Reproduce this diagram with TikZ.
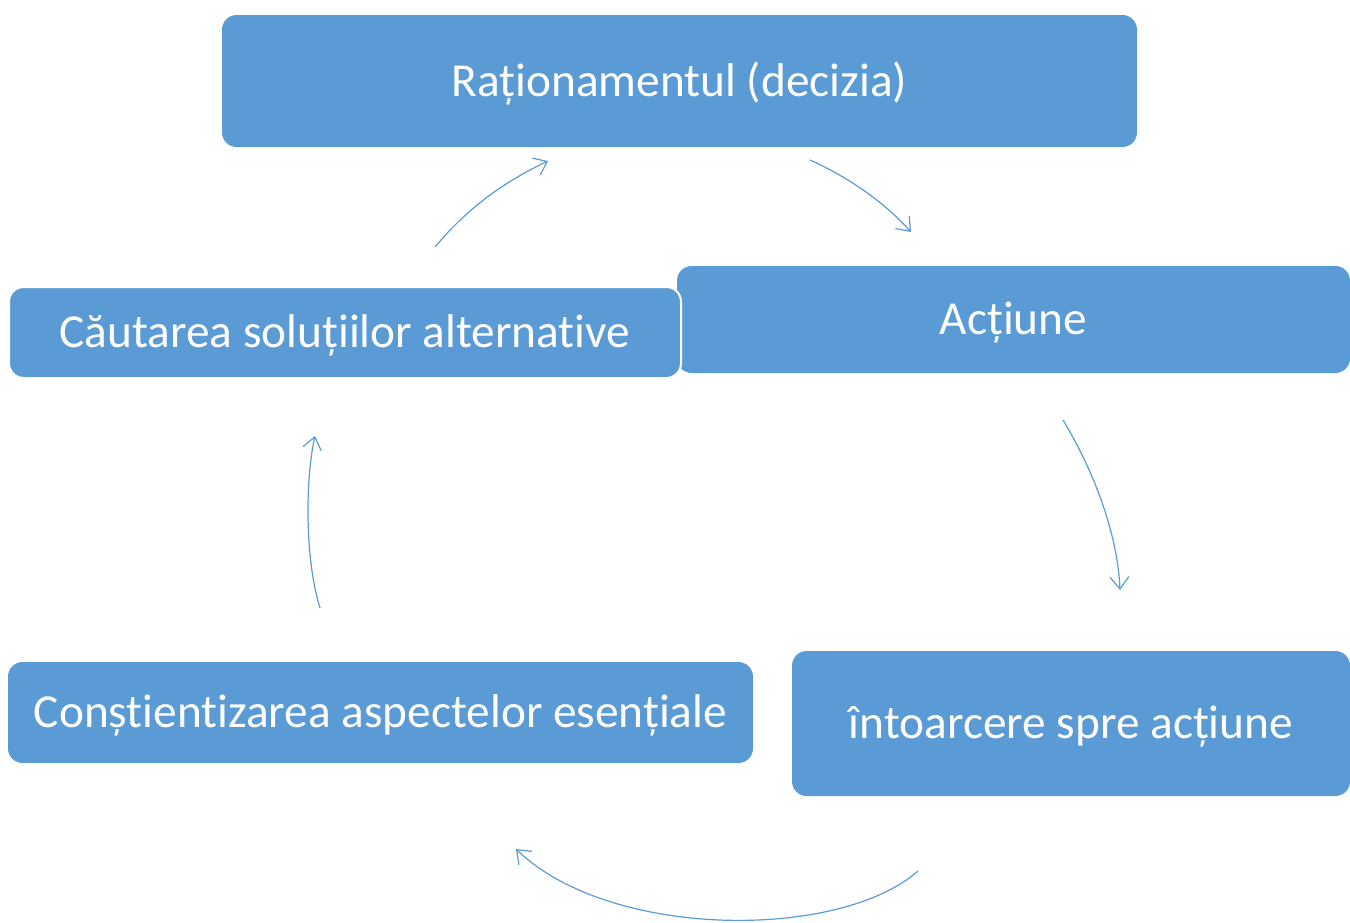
\documentclass[tikz,border=0pt]{standalone}
\usepackage{fontspec}
\setmainfont{Carlito}[Ligatures=NoCommon]
\usetikzlibrary{arrows.meta}
\definecolor{boxblue}{HTML}{5B9BD5}
\tikzset{
  box/.style={fill=boxblue, draw=none, rounded corners=11pt, text=white,
    font=\fontsize{35.5pt}{40pt}\selectfont, inner sep=0pt, align=center,
    text height=23pt, text depth=0pt},
  cyc/.style={draw=boxblue, line width=0.9pt, -{Straight Barb[length=9pt,width=14pt]}}
}
\begin{document}
\begin{tikzpicture}[x=0.75pt, y=-0.75pt]
\useasboundingbox (0,0) rectangle (1350,922);
% boxes
\node[box, minimum width=686.25pt, minimum height=99pt] (rat) at (679.5,81) {Raționamentul (decizia)};
\node[box, minimum width=504.75pt, minimum height=80.25pt] (act) at (1013.5,319.5) {Acțiune};
\node[box, draw=white, line width=1.5pt, minimum width=504pt, minimum height=68.25pt] (cau) at (345,332.5) {Căutarea soluțiilor alternative};
\node[box, minimum width=558.75pt, minimum height=75.75pt] (con) at (380.5,712.5) {Conștientizarea aspectelor esențiale};
\node[box, minimum width=418.5pt, minimum height=108.75pt] (int) at (1071,723.5) {întoarcere spre acțiune};
% arrow end points
\coordinate (a1s) at (435,247);  \coordinate (a1e) at (548,161);
\coordinate (a2s) at (810,160);  \coordinate (a2e) at (911,232);
\coordinate (a3s) at (1063,420); \coordinate (a3e) at (1120,590);
\coordinate (a4s) at (918,871);  \coordinate (a4e) at (516,849);
\coordinate (a5s) at (320,608);  \coordinate (a5e) at (315,436);
% connectors
\draw[cyc] (a1s) .. controls (470,205) and (508,180) .. (a1e);
\draw[cyc] (a2s) .. controls (850,178) and (885,203) .. (a2e);
\draw[cyc] (a3s) .. controls (1098,478) and (1118,540) .. (a3e);
\draw[cyc] (a4s) .. controls (840,940) and (610,940) .. (a4e);
\draw[cyc] (a5s) .. controls (305,560) and (305,480) .. (a5e);
\end{tikzpicture}
\end{document}
